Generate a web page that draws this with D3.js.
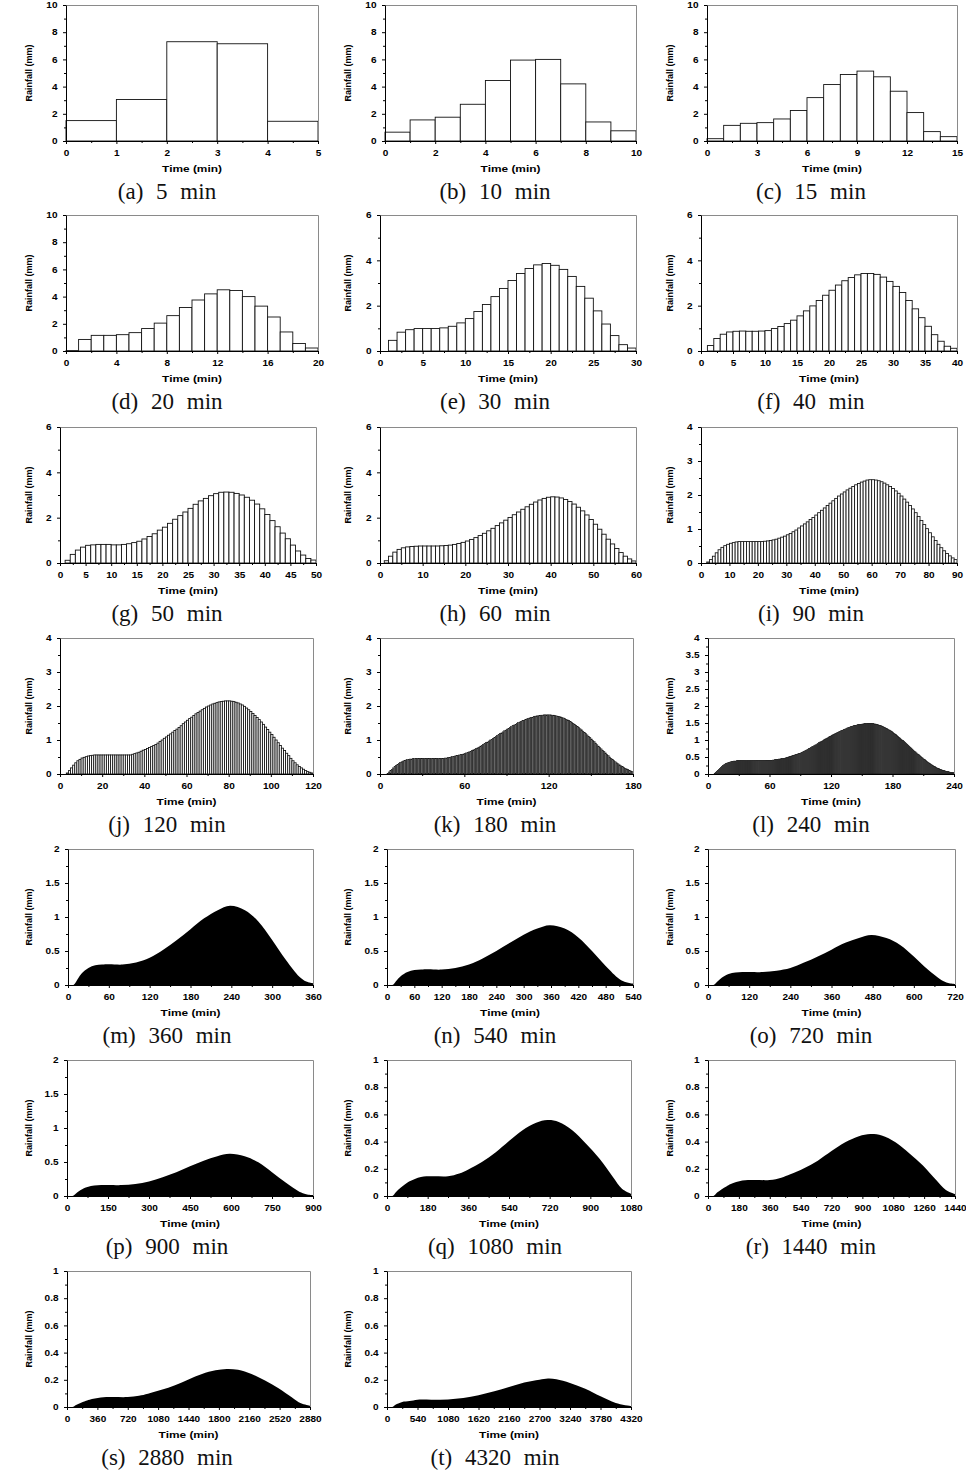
<!DOCTYPE html>
<html><head><meta charset="utf-8">
<script src="https://cdn.jsdelivr.net/npm/d3@7"></script>
<style>body{margin:0;background:#fff} svg{display:block}</style>
</head><body>
<svg id="c" width="966" height="1471"></svg>
<script>
// ---------------- DATA ----------------
const letters = ["a","b","c","d","e","f","g","h","i","j","k","l","m","n","o","p","q","r","s","t"];
const durations = [5,10,15,20,30,40,50,60,90,120,180,240,360,540,720,900,1080,1440,2880,4320];
const yMaxes = [10,10,10,10,6,6,6,6,4,4,4,4,2,2,2,2,1,1,1,1];
const yTickSteps = [2,2,2,2,2,2,2,2,1,1,1,0.5,0.5,0.5,0.5,0.5,0.2,0.2,0.2,0.2];
const xTickSteps = [1,2,3,4,5,5,5,10,10,20,60,60,60,60,120,150,180,180,360,540];

// 1-minute rainfall bars (mm)
const rain5 = [1.5,3.05,7.3,7.15,1.45];
const rain10 = [0.65,1.55,1.75,2.7,4.45,5.95,6.0,4.2,1.4,0.75];
const rain15 = [0.17,1.15,1.3,1.35,1.62,2.24,3.19,4.15,4.89,5.14,4.72,3.66,2.09,0.69,0.32];
const rain20 = [0.03,0.85,1.15,1.15,1.2,1.35,1.65,2.05,2.6,3.2,3.75,4.2,4.5,4.45,4.0,3.3,2.5,1.4,0.55,0.22];
const rain30 = [0,0.47,0.83,0.94,0.99,0.99,0.99,1.02,1.09,1.24,1.43,1.74,2.05,2.4,2.76,3.11,3.42,3.64,3.8,3.86,3.78,3.6,3.29,2.85,2.33,1.77,1.19,0.68,0.28,0.13];
const rain40 = [0,0.24,0.55,0.74,0.84,0.87,0.88,0.87,0.87,0.88,
  0.9,0.99,1.08,1.21,1.36,1.55,1.77,1.99,2.23,2.46,
  2.68,2.91,3.1,3.24,3.36,3.42,3.42,3.38,3.26,3.07,
  2.85,2.58,2.23,1.86,1.47,1.09,0.72,0.43,0.21,0.12];
const rain50 = [0,0.12,0.38,0.57,0.7,0.78,0.8,0.82,0.82,0.82,
  0.8,0.8,0.82,0.85,0.9,0.96,1.06,1.17,1.29,1.45,
  1.58,1.75,1.93,2.09,2.25,2.41,2.59,2.74,2.85,2.97,
  3.06,3.12,3.13,3.12,3.07,3.0,2.9,2.77,2.6,2.39,
  2.14,1.87,1.6,1.32,1.07,0.79,0.53,0.35,0.2,0.13];
const rain60 = [0,0.1,0.3,0.48,0.6,0.67,0.71,0.73,0.74,0.75,
  0.75,0.75,0.75,0.75,0.76,0.77,0.79,0.82,0.86,0.91,
  0.97,1.04,1.12,1.21,1.31,1.42,1.53,1.65,1.77,1.89,
  2.01,2.13,2.25,2.37,2.48,2.59,2.69,2.78,2.85,2.9,
  2.92,2.91,2.87,2.8,2.71,2.6,2.46,2.3,2.12,1.92,
  1.71,1.49,1.27,1.05,0.84,0.64,0.46,0.3,0.18,0.09];
const rain90 = [0,0,0.03,0.1,0.2,0.3,0.39,0.46,0.51,0.55,
  0.58,0.6,0.62,0.63,0.63,0.63,0.63,0.63,0.63,0.63,
  0.63,0.63,0.64,0.65,0.66,0.68,0.7,0.73,0.76,0.79,
  0.83,0.87,0.92,0.97,1.03,1.09,1.15,1.21,1.28,1.34,
  1.41,1.48,1.55,1.62,1.69,1.76,1.83,1.9,1.97,2.03,
  2.09,2.15,2.2,2.25,2.3,2.34,2.38,2.41,2.44,2.45,
  2.45,2.44,2.42,2.39,2.35,2.3,2.25,2.19,2.12,2.05,
  1.97,1.88,1.79,1.69,1.59,1.48,1.37,1.25,1.13,1.01,
  0.89,0.77,0.66,0.55,0.45,0.36,0.28,0.21,0.15,0.1];
const rain120 = [0,0,0,0.03,0.1,0.18,0.26,0.33,0.39,0.43,
  0.47,0.49,0.51,0.53,0.54,0.55,0.56,0.56,0.56,0.56,
  0.56,0.56,0.56,0.56,0.56,0.56,0.56,0.56,0.56,0.56,
  0.56,0.56,0.56,0.56,0.58,0.6,0.62,0.64,0.67,0.7,
  0.72,0.75,0.78,0.81,0.84,0.87,0.91,0.96,1.0,1.05,
  1.09,1.14,1.18,1.23,1.28,1.32,1.37,1.42,1.48,1.53,
  1.58,1.63,1.67,1.72,1.77,1.81,1.85,1.89,1.93,1.97,
  2.0,2.03,2.06,2.08,2.1,2.12,2.13,2.14,2.15,2.15,
  2.15,2.14,2.13,2.11,2.09,2.06,2.03,1.99,1.94,1.89,
  1.84,1.78,1.72,1.66,1.6,1.53,1.46,1.38,1.31,1.23,
  1.16,1.08,1.0,0.92,0.84,0.76,0.69,0.61,0.54,0.46,
  0.39,0.33,0.27,0.22,0.18,0.14,0.1,0.07,0.05,0.03];
const rain180 = [0,0,0,0,0,0.02,0.06,0.1,0.14,0.18,
  0.22,0.25,0.28,0.31,0.34,0.36,0.38,0.4,0.41,0.42,
  0.43,0.44,0.44,0.45,0.45,0.46,0.46,0.46,0.46,0.46,
  0.46,0.46,0.46,0.46,0.46,0.46,0.46,0.46,0.46,0.46,
  0.46,0.46,0.46,0.46,0.46,0.46,0.47,0.47,0.48,0.49,
  0.5,0.51,0.52,0.53,0.54,0.55,0.56,0.57,0.58,0.59,
  0.6,0.62,0.64,0.65,0.67,0.69,0.71,0.73,0.75,0.77,
  0.79,0.82,0.84,0.87,0.89,0.92,0.94,0.97,1.0,1.02,
  1.05,1.08,1.1,1.13,1.16,1.19,1.21,1.24,1.27,1.29,
  1.32,1.34,1.37,1.39,1.42,1.44,1.46,1.49,1.51,1.53,
  1.55,1.57,1.58,1.6,1.62,1.63,1.65,1.66,1.67,1.69,
  1.7,1.71,1.71,1.72,1.73,1.73,1.74,1.74,1.74,1.74,
  1.74,1.74,1.73,1.73,1.72,1.71,1.7,1.69,1.68,1.66,
  1.65,1.63,1.61,1.59,1.57,1.54,1.52,1.49,1.46,1.43,
  1.4,1.37,1.33,1.3,1.26,1.22,1.19,1.15,1.11,1.07,
  1.03,0.99,0.95,0.91,0.86,0.82,0.78,0.74,0.7,0.66,
  0.62,0.58,0.54,0.5,0.46,0.43,0.39,0.36,0.33,0.3,
  0.27,0.24,0.22,0.19,0.17,0.15,0.13,0.11,0.09,0.07];
const rain240 = [0,0,0,0,0,0,0.02,0.05,0.08,0.11,
  0.13,0.16,0.19,0.22,0.25,0.27,0.29,0.31,0.32,0.33,
  0.34,0.35,0.36,0.37,0.37,0.38,0.38,0.38,0.39,0.39,
  0.39,0.39,0.39,0.39,0.39,0.39,0.39,0.39,0.39,0.39,
  0.39,0.39,0.39,0.39,0.39,0.39,0.39,0.39,0.39,0.39,
  0.39,0.39,0.39,0.39,0.39,0.39,0.4,0.4,0.4,0.4,
  0.4,0.4,0.4,0.41,0.41,0.42,0.42,0.43,0.43,0.44,
  0.44,0.45,0.45,0.46,0.46,0.47,0.48,0.49,0.5,0.51,
  0.52,0.53,0.54,0.55,0.56,0.57,0.58,0.59,0.6,0.61,
  0.62,0.64,0.65,0.67,0.68,0.7,0.71,0.73,0.75,0.76,
  0.78,0.8,0.81,0.83,0.85,0.86,0.88,0.9,0.92,0.94,
  0.95,0.97,0.99,1.01,1.03,1.04,1.06,1.08,1.1,1.11,
  1.13,1.15,1.16,1.18,1.19,1.21,1.22,1.24,1.25,1.27,
  1.28,1.29,1.31,1.32,1.33,1.35,1.36,1.37,1.38,1.39,
  1.4,1.41,1.42,1.43,1.43,1.44,1.45,1.45,1.46,1.46,
  1.47,1.47,1.48,1.48,1.48,1.49,1.49,1.49,1.49,1.49,
  1.48,1.48,1.47,1.47,1.46,1.45,1.44,1.43,1.42,1.41,
  1.4,1.38,1.37,1.35,1.34,1.32,1.3,1.29,1.27,1.25,
  1.23,1.2,1.18,1.16,1.13,1.11,1.08,1.06,1.03,1.0,
  0.98,0.95,0.92,0.89,0.87,0.84,0.81,0.78,0.76,0.73,
  0.7,0.67,0.65,0.62,0.59,0.57,0.54,0.52,0.49,0.47,
  0.44,0.42,0.4,0.37,0.35,0.33,0.31,0.29,0.27,0.25,
  0.23,0.22,0.2,0.18,0.17,0.16,0.14,0.13,0.12,0.11,
  0.1,0.09,0.08,0.07,0.07,0.06,0.05,0.05,0.04,0.04];

// long durations: [time (min), rainfall (mm)]
const curve360 = [[0,0],[8,0],[15,0.1],[20,0.17],[30,0.25],[40,0.29],[50,0.3],[60,0.305],[80,0.3],[100,0.33],[120,0.4],[140,0.52],[160,0.66],[180,0.82],[200,0.98],[220,1.1],[238,1.165],[260,1.1],[280,0.93],[300,0.66],[320,0.37],[340,0.12],[350,0.05],[360,0.025]];
const curve540 = [[0,0],[12,0],[22,0.075],[30,0.13],[45,0.19],[60,0.22],[75,0.227],[90,0.23],[120,0.227],[150,0.25],[180,0.3],[210,0.39],[240,0.5],[270,0.62],[300,0.74],[330,0.83],[357,0.88],[390,0.83],[420,0.7],[450,0.5],[480,0.28],[510,0.09],[525,0.04],[540,0.02]];
const curve720 = [[0,0],[16,0],[30,0.063],[40,0.107],[60,0.16],[80,0.183],[100,0.19],[120,0.192],[160,0.19],[200,0.21],[240,0.25],[280,0.33],[320,0.42],[360,0.52],[400,0.62],[440,0.69],[476,0.735],[520,0.69],[560,0.59],[600,0.42],[640,0.23],[680,0.075],[700,0.03],[720,0.015]];
const curve900 = [[0,0],[20,0],[37,0.053],[50,0.09],[75,0.133],[100,0.154],[125,0.16],[150,0.162],[200,0.16],[250,0.176],[300,0.213],[350,0.277],[400,0.35],[450,0.436],[500,0.52],[550,0.585],[595,0.62],[650,0.585],[700,0.495],[750,0.35],[800,0.197],[850,0.064],[875,0.027],[900,0.013]];
const curve1080 = [[0,0],[24,0],[40,0.03],[60,0.06],[80,0.086],[100,0.108],[150,0.14],[200,0.145],[270,0.145],[320,0.165],[360,0.195],[420,0.25],[480,0.32],[540,0.405],[600,0.484],[660,0.538],[710,0.558],[760,0.545],[820,0.484],[880,0.386],[940,0.275],[1000,0.14],[1040,0.054],[1080,0.017]];
const curve1440 = [[0,0],[32,0],[53,0.025],[80,0.05],[107,0.07],[133,0.088],[200,0.114],[267,0.118],[360,0.118],[427,0.135],[480,0.16],[560,0.204],[640,0.26],[720,0.33],[800,0.395],[880,0.44],[947,0.456],[1013,0.445],[1093,0.395],[1173,0.315],[1253,0.225],[1333,0.114],[1387,0.044],[1440,0.014]];
const curve2880 = [[0,0],[64,0],[107,0.015],[160,0.03],[213,0.043],[267,0.054],[400,0.07],[533,0.073],[720,0.073],[853,0.083],[960,0.098],[1120,0.126],[1280,0.16],[1440,0.203],[1600,0.243],[1760,0.27],[1893,0.28],[2027,0.274],[2187,0.243],[2347,0.194],[2507,0.138],[2667,0.07],[2773,0.027],[2880,0.009]];
const curve4320 = [[0,0],[95,0],[150,0.017],[200,0.025],[270,0.037],[400,0.044],[540,0.054],[800,0.054],[1080,0.056],[1350,0.066],[1620,0.086],[1900,0.115],[2160,0.147],[2430,0.18],[2700,0.2],[2850,0.209],[3000,0.204],[3240,0.177],[3510,0.135],[3780,0.079],[4050,0.03],[4320,0.007]];

const barSeries = [rain5,rain10,rain15,rain20,rain30,rain40,rain50,rain60,rain90,rain120,rain180,rain240];
const curveSeries = [curve360,curve540,curve720,curve900,curve1080,curve1440,curve2880,curve4320];

// ---------------- LAYOUT ----------------
// plot rectangles [left, right, top, bottom]
const plotRects = [
  [66,318,5,141],[385,636,5,141],[707,957,5,141],
  [66,318,215,351],[380,636,215,351],[701,957,215,351],
  [60,316,427,563],[380,636,427,563],[701,957,427,563],
  [60,313,638,774],[380,633,638,774],[708,954,638,774],
  [68,313,849,985],[387,633,849,985],[708,955,849,985],
  [67,313,1060,1196],[387,631,1060,1196],[708,955,1060,1196],
  [67,310,1271,1407],[387,631,1271,1407]
];
const yLabelX = [30,349,671];
const captionCX = [167,495,811];

// ---------------- DRAW ----------------
const svg = d3.select('#c');
const fmt = v => String(+v.toFixed(2));
const SX = 1.18; // horizontal stretch of the sans-serif labels

durations.forEach((dur, i) => {
  const [L, R, T, B] = plotRects[i];
  const col = i % 3;
  const x = d3.scaleLinear().domain([0, dur]).range([L, R]);
  const y = d3.scaleLinear().domain([0, yMaxes[i]]).range([B, T]);
  const g = svg.append('g');

  if (i < barSeries.length) {
    const dense = dur >= 90;
    const veryDense = dur >= 180;
    const bars = barSeries[i].map((v, k) => ({k, v})).filter(d => d.v > 0);
    g.append('g').selectAll('rect').data(bars).join('rect')
      .attr('x', d => x(d.k)).attr('width', d => x(d.k + 1) - x(d.k))
      .attr('y', d => y(d.v)).attr('height', d => y(0) - y(d.v))
      .attr('fill', veryDense ? (dur >= 240 ? '#555' : '#707070') : '#fff')
      .attr('stroke', '#111')
      .attr('stroke-width', veryDense ? 0.5 : (dense ? 0.85 : 0.9));
  } else {
    const area = d3.area().x(d => x(d[0])).y0(y(0)).y1(d => y(d[1])).curve(d3.curveCatmullRom.alpha(0.5));
    g.append('path').datum(curveSeries[i - barSeries.length]).attr('d', area).attr('fill', '#000');
  }

  // top and right frame
  g.append('path')
    .attr('d', d3.line()([[x.range()[0], y.range()[1] + 0.5], [x.range()[1] + 0.5, y.range()[1] + 0.5], [x.range()[1] + 0.5, y.range()[0]]]))
    .attr('fill', 'none').attr('stroke', '#8a8a8a').attr('stroke-width', 1);

  const nY = Math.round(yMaxes[i] / yTickSteps[i]);
  const yMajor = d3.range(0, nY + 1).map(k => +(k * yTickSteps[i]).toFixed(3));
  const yMinor = d3.range(0, nY).map(k => +((k + 0.5) * yTickSteps[i]).toFixed(3));
  const nX = Math.round(dur / xTickSteps[i]);
  const xMajor = d3.range(0, nX + 1).map(k => +(k * xTickSteps[i]).toFixed(3));
  const xMinor = d3.range(0, nX).map(k => +((k + 0.5) * xTickSteps[i]).toFixed(3));

  const yAx = g.append('g').attr('transform', `translate(${L},0)`)
    .call(d3.axisLeft(y).tickValues(yMajor).tickSize(3).tickSizeOuter(0).tickPadding(5).tickFormat(fmt));
  g.append('g').attr('transform', `translate(${L},0)`)
    .call(d3.axisLeft(y).tickValues(yMinor).tickSize(2).tickSizeOuter(0).tickFormat(''))
    .select('.domain').remove();
  const xAx = g.append('g').attr('transform', `translate(0,${B})`)
    .call(d3.axisBottom(x).tickValues(xMajor).tickSize(3).tickSizeOuter(0).tickPadding(6).tickFormat(fmt));
  g.append('g').attr('transform', `translate(0,${B})`)
    .call(d3.axisBottom(x).tickValues(xMinor).tickSize(2).tickSizeOuter(0).tickFormat(''))
    .select('.domain').remove();

  [yAx, xAx].forEach(a => {
    a.selectAll('text').attr('font-family', 'Liberation Sans, Arial, sans-serif')
      .attr('font-weight', 'bold').attr('font-size', 8.5).attr('fill', '#000');
  });
  yAx.selectAll('text').attr('x', -8.5 / SX).attr('transform', `scale(${SX},1)`);
  xAx.selectAll('text').attr('transform', `scale(${SX},1)`);
  g.selectAll('.domain').attr('stroke', '#000');
  g.selectAll('.tick line').attr('stroke', '#000');

  // axis titles
  g.append('text').text('Time (min)')
    .attr('transform', `translate(${(L + R) / 2},${B + 31}) scale(1.25,1)`)
    .attr('text-anchor', 'middle').attr('font-family', 'Liberation Sans, Arial, sans-serif')
    .attr('font-weight', 'bold').attr('font-size', 9.5);
  g.append('text').text('Rainfall (mm)')
    .attr('transform', `translate(${yLabelX[col]},${(T + B) / 2}) rotate(-90)`)
    .attr('text-anchor', 'middle').attr('dominant-baseline', 'middle')
    .attr('font-family', 'Liberation Sans, Arial, sans-serif')
    .attr('font-weight', 'bold').attr('font-size', 9);

  // caption
  g.append('text').text(`(${letters[i]}) ${dur} min`)
    .attr('x', captionCX[col]).attr('y', B + 58)
    .attr('text-anchor', 'middle').attr('font-family', 'Liberation Serif, Times New Roman, serif')
    .attr('font-size', 23).attr('word-spacing', 7).attr('fill', '#111');
});
</script>
</body></html>
